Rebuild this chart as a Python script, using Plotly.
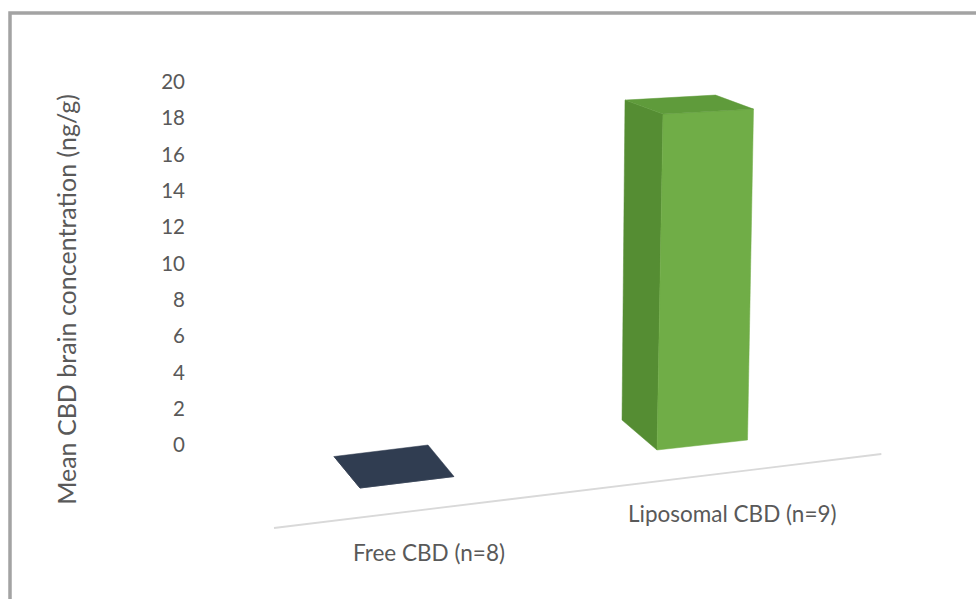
import plotly.graph_objects as go

# ---------------- data ----------------
categories = ["Free CBD (n=8)", "Liposomal CBD (n=9)"]
values = [0.0, 19.0]
y_ticks = [0, 2, 4, 6, 8, 10, 12, 14, 16, 18, 20]
y_title = "Mean CBD brain concentration (ng/g)"

# ---------------- styles ----------------
face_colors = [
    {"front": "#3a475b", "side": "#2a3445", "top": "#303d51"},
    {"front": "#70ad47", "side": "#558d33", "top": "#5f9b3b"},
]
TEXT = "#595959"
FONT = "Lato, Carlito, Calibri, sans-serif"

# ---------------- simple perspective projection (3D bar look) ----------------
W, H = 976, 599
AXIS0_PX, PX_PER_UNIT = 445.0, 18.15          # pixel row of value 0, pixels per value unit
Y_TOP = AXIS0_PX / PX_PER_UNIT
Y_BOT = Y_TOP - H / PX_PER_UNIT

X0, Y0 = 360.0, 488.0        # front-left-bottom corner of first bar
SX, SY = 297.0, -38.0        # category step
WX0, WXC = 94.0, -3.5        # bar width vector
WY0, WYC, WYZ = -11.5, 1.5, 0.263
DX0, DXC, DXZ = -26.0, -9.0, -0.158   # depth vector
DY0, DYC, DYZ = -31.5, 1.5, 0.842
ZX, ZY = 0.316, -17.68       # height vector per value unit
FLOOR_D = -0.85
HALF_SPAN = 1.65


def proj(ci, u, d, z):
    wx = WX0 + WXC * ci
    wy = WY0 + WYC * ci + WYZ * z
    dx = DX0 + DXC * ci + DXZ * z
    dy = DY0 + DYC * ci + DYZ * z
    px = X0 + SX * ci + u * wx + d * dx + z * ZX
    py = Y0 + SY * ci + u * wy + d * dy + z * ZY
    return px, (AXIS0_PX - py) / PX_PER_UNIT


def poly(ci, pts, color):
    xs, ys = zip(*[proj(ci, *p) for p in pts])
    return go.Scatter(x=list(xs) + [xs[0]], y=list(ys) + [ys[0]], mode="lines",
                      fill="toself", fillcolor=color, line=dict(color=color, width=0.5),
                      hoverinfo="skip", showlegend=False)


fig = go.Figure()

# floor / category axis line
fx0, fy0 = proj(0, 0.5 - HALF_SPAN, FLOOR_D, 0)
fx1, fy1 = proj(len(categories) - 1, 0.5 + HALF_SPAN, FLOOR_D, 0)
fig.add_trace(go.Scatter(x=[fx0, fx1], y=[fy0, fy1], mode="lines",
                         line=dict(color="#d9d9d9", width=1.8),
                         hoverinfo="skip", showlegend=False))

for ci, (cat, v) in enumerate(zip(categories, values)):
    c = face_colors[ci]
    fig.add_trace(poly(ci, [(0, 0, 0), (0, 1, 0), (0, 1, v), (0, 0, v)], c["side"]))
    fig.add_trace(poly(ci, [(0, 0, 0), (1, 0, 0), (1, 0, v), (0, 0, v)], c["front"]))
    fig.add_trace(poly(ci, [(0, 0, v), (1, 0, v), (1, 1, v), (0, 1, v)], c["top"]))
    lx, ly = proj(ci, 0.5, FLOOR_D, 0)
    fig.add_annotation(x=lx, y=ly, text=cat, showarrow=False, xshift=0, yshift=-43,
                       font=dict(family=FONT, size=22.5, color=TEXT))

fig.update_layout(
    width=W, height=H,
    margin=dict(l=0, r=0, t=0, b=0, pad=0),
    paper_bgcolor="white", plot_bgcolor="white",
    xaxis=dict(range=[0, W], visible=False, fixedrange=True),
    yaxis=dict(range=[Y_BOT, Y_TOP], anchor="free", position=185 / W,
               tickvals=y_ticks, showgrid=False, zeroline=False, showline=False,
               ticks="", tickfont=dict(family=FONT, size=20.5, color=TEXT),
               title=dict(text=y_title, standoff=76,
                          font=dict(family=FONT, size=25, color=TEXT))),
    shapes=[dict(type="rect", xref="paper", yref="paper",
                 x0=10 / W, x1=1.02, y0=-0.02, y1=1 - 13 / H,
                 line=dict(color="#a3a3a3", width=3.5))],
    showlegend=False,
)

fig.write_html("out.html")
